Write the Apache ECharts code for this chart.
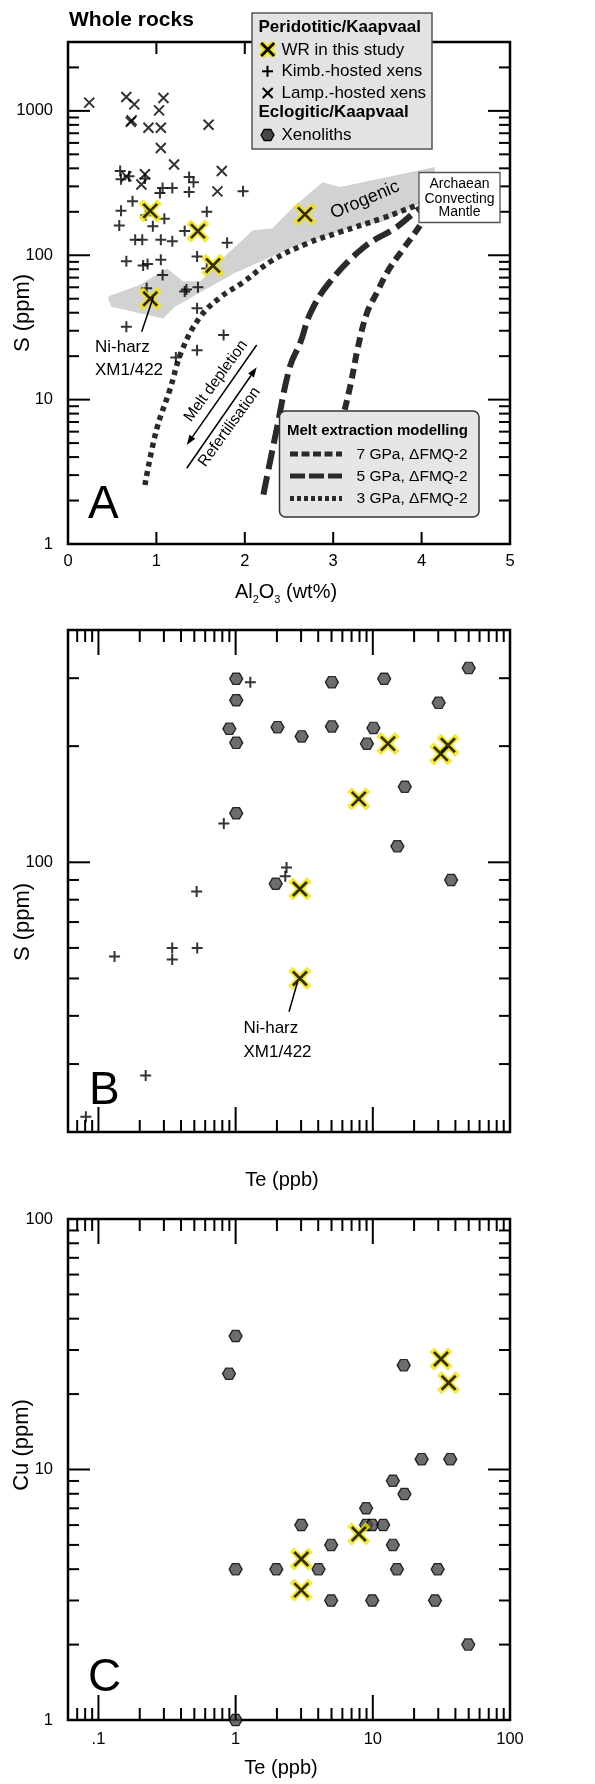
<!DOCTYPE html>
<html>
<head>
<meta charset="utf-8">
<script src="https://cdn.jsdelivr.net/npm/echarts@6/dist/echarts.min.js"></script>
<style>
  html, body { margin: 0; padding: 0; background: #fff; }
  #main { width: 595px; height: 1784px; }
</style>
</head>
<body>
<div id="main"></div>
<script>
// ---- panel A : S vs Al2O3 ----
var aKimb = [
  [0.59,383],[0.60,336],[0.69,352],[0.87,340],[1.07,292],[1.18,292],[1.04,270],[1.37,348],[1.42,321],[1.37,274],[1.98,277],
  [0.73,237],[0.60,203],[1.57,200],[0.58,161],[0.96,159],[1.09,179],[0.88,189],[1.32,147],
  [0.76,128],[0.84,128],[1.05,128],[1.18,125],[1.80,122],
  [0.66,91],[0.85,85],[0.90,87],[1.05,93],[1.07,73],[1.46,98],[1.57,81],
  [1.32,56],[1.34,58],[1.47,60],[0.89,59],
  [1.46,43],[0.66,32],[1.76,28],[1.46,22],[1.22,19.6]
];
var aLamp = [
  [0.24,1140],[0.66,1247],[0.75,1109],[1.08,1227],[1.03,1008],[0.71,839],[0.72,860],[0.91,765],[1.05,765],
  [1.59,802],[1.05,553],[1.20,425],[1.74,383],[0.66,352],[0.87,364],[0.83,309],[1.69,277]
];
var aWR = [[0.93,203],[1.47,147],[1.64,85],[2.68,192],[0.93,50]];
var aOrogenic = [
  [0.46,52],[0.8,62],[1.12,81],[1.3,66],[1.5,66],[1.75,95],[2.09,149],[2.31,153],[2.55,216],[2.88,321],[3.08,297],[4.15,408],
  [4.15,300],[3.98,228],[3.55,170],[3.28,161],[2.55,114],[1.88,75],[1.21,44],[1.08,36.5],[0.49,44],[0.455,50]
];
var model3 = [[0.87,2.56],[1.0,6.15],[1.15,11.6],[1.29,22],[1.49,37],[1.72,51],[1.98,65],[2.31,92],[2.71,121],[3.08,145],[3.55,180],[3.95,222],[4.05,232]];
var model5 = [[2.21,2.2],[2.36,6.2],[2.51,16.9],[2.63,25],[2.74,39.5],[2.95,64],[3.35,114],[3.72,157],[3.95,205],[4.05,222]];
var model7 = [[3.13,8.5],[3.2,13],[3.28,23],[3.38,39.5],[3.5,56],[3.62,78],[3.78,108],[3.98,160],[4.06,195]];

// ---- panel B : S vs Te ----
var bXeno = [[1.01,299],[1.01,263],[0.9,222],[1.01,204],[1.01,134],[2.02,224],[3.03,212],[5.03,293],[5.03,225],[12.1,299],
  [10.1,223],[9.06,203],[30.2,259],[50,319],[17.1,157],[15.1,110],[37.2,90],[1.96,88]];
var bKimb = [[1.28,293],[0.82,126],[2.35,97],[2.3,92],[0.52,84],[0.345,60],[0.345,56],[0.525,60],[0.131,57],[0.221,28],[0.081,21.9]];
var bWR = [[7.9,146],[12.9,203],[31.3,191],[35.3,201],[2.94,85.3],[2.94,50]];

// ---- panel C : Cu vs Te ----
var cXeno = [[1.0,34.1],[0.895,24.1],[16.8,26.1],[22.7,11],[36.7,11],[14,9.02],[17,7.98],[8.94,7],[8.94,6],[9.9,6],[11.9,6],
  [3.01,6],[4.97,5],[14,5],[1,4],[1.98,4],[4.02,4],[15,4],[29.7,4],[4.97,3],[9.9,3],[28.4,3],[49.6,2],[1,1]];
var cWR = [[31.4,27.6],[35.7,22.2],[3.01,4.39],[3.01,3.3],[7.91,5.53]];

// tick values
var aXTicks = [1,2,3,4];
var aYMajor = [10,100,1000];
var aYMinor = [2,3,4,5,6,7,8,9,20,30,40,50,60,70,80,90,200,300,400,500,600,700,800,900,2000];
var teMajor = [0.1,1,10];
var teMinor = [0.07,0.08,0.09,0.2,0.3,0.4,0.5,0.6,0.7,0.8,0.9,2,3,4,5,6,7,8,9,20,30,40,50,60,70,80,90];
var bYMajor = [100];
var bYMinor = [30,40,50,60,70,80,90,200,300];
var cYMajor = [10];
var cYMinor = [2,3,4,5,6,7,8,9,20,30,40,50,60,70,80,90];
var aYLabels = [1,10,100,1000];
var bYLabels = [100];
var cYLabels = [1,10,100];
var teLabels = [0.1,1,10,100];

var FONT = '"Liberation Sans", Arial, sans-serif';
var myChart = echarts.init(document.getElementById('main'));

var PLUS = 'path://M0,-1L0,1M-1,0L1,0';
var CROSS = 'path://M-1,-1L1,1M-1,1L1,-1';
var HEX = 'path://M-2,0L-1,-1.732L1,-1.732L2,0L1,1.732L-1,1.732Z';

function onlyLabels(list, txt) {
    return function (v) {
        for (var i = 0; i < list.length; i++) {
            if (Math.abs(v - list[i]) / list[i] < 1e-6) return txt ? txt[i] : String(list[i]);
        }
        return '';
    };
}

// tick marks on the four sides of a grid
function tickSeries(gi, t) {
    return {
        type: 'custom', xAxisIndex: gi, yAxisIndex: gi, silent: true, z: 10,
        data: [[t.xref, t.yref]],
        renderItem: function (params, api) {
            var cs = params.coordSys;
            var L = cs.x, R = cs.x + cs.width, T = cs.y, B = cs.y + cs.height;
            var kids = [];
            function seg(x1, y1, x2, y2) {
                kids.push({ type: 'line', shape: { x1: x1, y1: y1, x2: x2, y2: y2 }, style: { stroke: '#000', lineWidth: 2 } });
            }
            function xt(list, len) {
                list.forEach(function (v) {
                    var px = api.coord([v, t.yref])[0];
                    seg(px, B, px, B - len); seg(px, T, px, T + len);
                });
            }
            function yt(list, len) {
                list.forEach(function (v) {
                    var py = api.coord([t.xref, v])[1];
                    seg(L, py, L + len, py); seg(R, py, R - len, py);
                });
            }
            xt(t.xMajor, t.xMajLen); xt(t.xMinor, t.xMinLen);
            yt(t.yMajor, 22); yt(t.yMinor, 11);
            return { type: 'group', children: kids };
        }
    };
}

function crossHalo(gi, data) {
    return [{
        name: 'WR halo', type: 'scatter', xAxisIndex: gi, yAxisIndex: gi, data: data, symbol: CROSS, symbolSize: 14, z: 6,
        itemStyle: { color: 'none', borderColor: '#f2e200', borderWidth: 6.5, borderCap: 'square' }
    }, {
        name: 'WR in this study', type: 'scatter', xAxisIndex: gi, yAxisIndex: gi, data: data, symbol: CROSS, symbolSize: 14, z: 7,
        itemStyle: { color: 'none', borderColor: '#000', borderWidth: 2.7 }
    }];
}
function plusSeries(gi, data) {
    return { name: 'Kimb.-hosted xens', type: 'scatter', xAxisIndex: gi, yAxisIndex: gi, data: data, symbol: PLUS, symbolSize: 11, z: 5,
        itemStyle: { color: 'none', borderColor: '#000', borderWidth: 2 } };
}
function hexSeries(gi, data) {
    return { name: 'Xenoliths', type: 'scatter', xAxisIndex: gi, yAxisIndex: gi, data: data, symbol: HEX, symbolSize: [13, 11.3], z: 4,
        itemStyle: { color: '#484848', borderColor: '#000', borderWidth: 1.3 } };
}

var axisCommon = {
    axisLine: { show: false }, axisTick: { show: false }, splitLine: { show: false }
};
function lab(extra) {
    return Object.assign({ color: '#000', fontSize: 16.5, fontFamily: FONT }, extra);
}

function txt(x, y, s, size, opt) {
    opt = opt || {};
    return {
        type: 'text', x: x, y: y, rotation: opt.rot || 0, z: 100,
        style: {
            text: s, x: 0, y: 0, fill: '#000', fontSize: size, fontFamily: FONT,
            fontWeight: opt.bold ? 'bold' : 'normal',
            align: opt.align || 'left', verticalAlign: opt.va || 'middle',
            rich: opt.rich
        }
    };
}
function seg(x1, y1, x2, y2, st) {
    return { type: 'line', z: 100, shape: { x1: x1, y1: y1, x2: x2, y2: y2 }, style: Object.assign({ stroke: '#000', lineWidth: 1.5 }, st) };
}
function arrow(x1, y1, x2, y2) {
    var dx = x2 - x1, dy = y2 - y1, d = Math.sqrt(dx * dx + dy * dy);
    var ux = dx / d, uy = dy / d, hl = 10, hw = 3.5;
    var bx = x2 - ux * hl, by = y2 - uy * hl;
    return [seg(x1, y1, bx, by), {
        type: 'polygon', z: 100,
        shape: { points: [[x2, y2], [bx - uy * hw, by + ux * hw], [bx + uy * hw, by - ux * hw]] },
        style: { fill: '#000' }
    }];
}
function xMark(cx, cy, h, halo) {
    var out = [];
    if (halo) {
        out.push(seg(cx - h, cy - h, cx + h, cy + h, { stroke: '#f2e200', lineWidth: 6.5 }));
        out.push(seg(cx - h, cy + h, cx + h, cy - h, { stroke: '#f2e200', lineWidth: 6.5 }));
    }
    out.push(seg(cx - h, cy - h, cx + h, cy + h, { lineWidth: halo ? 2.7 : 2 }));
    out.push(seg(cx - h, cy + h, cx + h, cy - h, { lineWidth: halo ? 2.7 : 2 }));
    return out;
}

var subRich = {
    n: { fontSize: 20, fontFamily: FONT, lineHeight: 24, verticalAlign: 'bottom', padding: [0, 0, 3, 0] },
    s: { fontSize: 11, fontFamily: FONT, lineHeight: 24, verticalAlign: 'bottom' }
};

var graphics = [
    txt(69, 20, 'Whole rocks', 21, { bold: true }),
    // legend panel A
    { type: 'rect', z: 99, shape: { x: 252, y: 13, width: 180, height: 136 }, style: { fill: '#e3e3e3', stroke: '#555', lineWidth: 1.5 } },
    txt(258.5, 27, 'Peridotitic/Kaapvaal', 17, { bold: true }),
    txt(281.5, 50, 'WR in this study', 17),
    txt(281.5, 71.5, 'Kimb.-hosted xens', 17),
    txt(281.5, 93, 'Lamp.-hosted xens', 17),
    txt(258.5, 112, 'Eclogitic/Kaapvaal', 17, { bold: true }),
    txt(281.5, 135.5, 'Xenoliths', 17),
    seg(262, 71.3, 273, 71.3, { lineWidth: 2 }), seg(267.5, 65.8, 267.5, 76.8, { lineWidth: 2 }),
    { type: 'polygon', z: 100, shape: { points: [[261,135],[264.2,129.5],[270.8,129.5],[274,135],[270.8,140.5],[264.2,140.5]] },
      style: { fill: '#484848', stroke: '#000', lineWidth: 1.3 } },
    // Archaean convecting mantle box
    { type: 'rect', z: 99, shape: { x: 419, y: 172.5, width: 81, height: 50 }, style: { fill: '#fff', stroke: '#555', lineWidth: 1.3 } },
    txt(459.5, 184.5, 'Archaean', 14, { align: 'center' }),
    txt(459.5, 199, 'Convecting', 14, { align: 'center' }),
    txt(459.5, 212.5, 'Mantle', 14, { align: 'center' }),
    txt(365, 200, 'Orogenic', 18, { align: 'center', rot: 23 * Math.PI / 180 }),
    // Ni-harz A
    seg(141.7, 331.7, 153.3, 297),
    txt(95, 347, 'Ni-harz', 17), txt(95, 370, 'XM1/422', 17),
    // melt depletion arrows
    txt(216, 381, 'Melt depletion', 15.5, { align: 'center', rot: 54 * Math.PI / 180 }),
    txt(229.5, 427, 'Refertilisation', 15.5, { align: 'center', rot: 54 * Math.PI / 180 }),
    // melt extraction legend
    { type: 'rect', z: 99, shape: { x: 279.5, y: 411, width: 199.5, height: 106, r: 6 }, style: { fill: '#e6e6e6', stroke: '#333', lineWidth: 1.5 } },
    txt(287, 430.5, 'Melt extraction modelling', 15, { bold: true }),
    seg(290, 454, 342, 454, { stroke: '#2a2a2a', lineWidth: 5, lineDash: [8, 3.5] }),
    seg(290, 476, 342, 476, { stroke: '#2a2a2a', lineWidth: 5, lineDash: [15, 4] }),
    seg(290, 498.5, 342, 498.5, { stroke: '#2a2a2a', lineWidth: 5, lineDash: [4, 3] }),
    txt(356.5, 454.5, '7 GPa, \u0394FMQ-2', 15.5),
    txt(356.5, 476.5, '5 GPa, \u0394FMQ-2', 15.5),
    txt(356.5, 499, '3 GPa, \u0394FMQ-2', 15.5),
    txt(88, 505, 'A', 46),
    // axis titles
    txt(286, 593, '{n|Al}{s|2}{n|O}{s|3}{n| (wt%)}', 20, { align: 'center', rich: subRich }),
    txt(23, 313, 'S (ppm)', 22, { align: 'center', rot: Math.PI / 2 }),
    // panel B
    txt(23, 922, 'S (ppm)', 22, { align: 'center', rot: Math.PI / 2 }),
    seg(289, 1011.7, 297.5, 982),
    txt(243.5, 1028.5, 'Ni-harz', 17), txt(243.5, 1052, 'XM1/422', 17),
    txt(89, 1091, 'B', 46),
    txt(282, 1180, 'Te (ppb)', 20, { align: 'center' }),
    // panel C
    txt(22, 1445, 'Cu (ppm)', 22, { align: 'center', rot: Math.PI / 2 }),
    txt(88, 1678, 'C', 46),
    txt(281, 1768, 'Te (ppb)', 20, { align: 'center' })
];
graphics = graphics.concat(arrow(256.7, 345, 186.7, 445), arrow(186.7, 468.3, 256.7, 367.3), xMark(267.7, 49.5, 6.5, true), xMark(267.7, 93, 5, false));

var gridStyle = { show: true, borderColor: '#000', borderWidth: 2.5, backgroundColor: 'transparent' };

var option = {
    animation: false,
    backgroundColor: '#fff',
    grid: [
        Object.assign({ left: 68, top: 42, width: 442, height: 502 }, gridStyle),
        Object.assign({ left: 68, top: 630, width: 442, height: 502 }, gridStyle),
        Object.assign({ left: 68, top: 1219, width: 442, height: 501 }, gridStyle)
    ],
    xAxis: [
        Object.assign({ gridIndex: 0, type: 'value', min: 0, max: 5, interval: 1, axisLabel: lab({ margin: 9 }) }, axisCommon),
        Object.assign({ gridIndex: 1, type: 'log', logBase: 10, min: 0.06, max: 100, axisLabel: { show: false } }, axisCommon),
        Object.assign({ gridIndex: 2, type: 'log', logBase: 10, min: 0.06, max: 100,
            axisLabel: lab({ margin: 11, formatter: onlyLabels(teLabels, ['.1', '1', '10', '100']) }) }, axisCommon)
    ],
    yAxis: [
        Object.assign({ gridIndex: 0, type: 'log', logBase: 10, min: 1, max: 3000,
            axisLabel: lab({ margin: 15, formatter: onlyLabels(aYLabels) }) }, axisCommon),
        Object.assign({ gridIndex: 1, type: 'log', logBase: 10, min: 20, max: 400,
            axisLabel: lab({ margin: 15, formatter: onlyLabels(bYLabels) }) }, axisCommon),
        Object.assign({ gridIndex: 2, type: 'log', logBase: 10, min: 1, max: 100,
            axisLabel: lab({ margin: 15, formatter: onlyLabels(cYLabels) }) }, axisCommon)
    ],
    graphic: graphics,
    series: [
        {
            name: 'Orogenic', type: 'custom', xAxisIndex: 0, yAxisIndex: 0, data: aOrogenic, z: 1, silent: true,
            renderItem: function (params, api) {
                if (params.dataIndex !== 0) return;
                return { type: 'polygon', shape: { points: aOrogenic.map(function (p) { return api.coord(p); }) }, style: { fill: '#d2d2d2' } };
            }
        },
        { name: '3 GPa', type: 'line', xAxisIndex: 0, yAxisIndex: 0, data: model3, showSymbol: false, smooth: 0.4, z: 3,
          lineStyle: { color: '#2a2a2a', width: 5.5, type: [5, 4.5] } },
        { name: '5 GPa', type: 'line', xAxisIndex: 0, yAxisIndex: 0, data: model5, showSymbol: false, smooth: 0.4, z: 3,
          lineStyle: { color: '#2a2a2a', width: 6, type: [19, 7] } },
        { name: '7 GPa', type: 'line', xAxisIndex: 0, yAxisIndex: 0, data: model7, showSymbol: false, smooth: 0.4, z: 3,
          lineStyle: { color: '#2a2a2a', width: 6, type: [10, 6] } },
        plusSeries(0, aKimb),
        { name: 'Lamp.-hosted xens', type: 'scatter', xAxisIndex: 0, yAxisIndex: 0, data: aLamp, symbol: CROSS, symbolSize: 10, z: 5,
          itemStyle: { color: 'none', borderColor: '#000', borderWidth: 2 } },
        tickSeries(0, { xref: 0, yref: 1, xMajor: aXTicks, xMinor: [], xMajLen: 12, xMinLen: 0, yMajor: aYMajor, yMinor: aYMinor }),

        hexSeries(1, bXeno),
        plusSeries(1, bKimb),
        tickSeries(1, { xref: 0.1, yref: 100, xMajor: teMajor, xMinor: teMinor, xMajLen: 25, xMinLen: 12, yMajor: bYMajor, yMinor: bYMinor }),

        hexSeries(2, cXeno),
        tickSeries(2, { xref: 0.1, yref: 10, xMajor: teMajor, xMinor: teMinor, xMajLen: 25, xMinLen: 12, yMajor: cYMajor, yMinor: cYMinor })
    ].concat(crossHalo(0, aWR), crossHalo(1, bWR), crossHalo(2, cWR))
};

myChart.setOption(option);
</script>
</body>
</html>
